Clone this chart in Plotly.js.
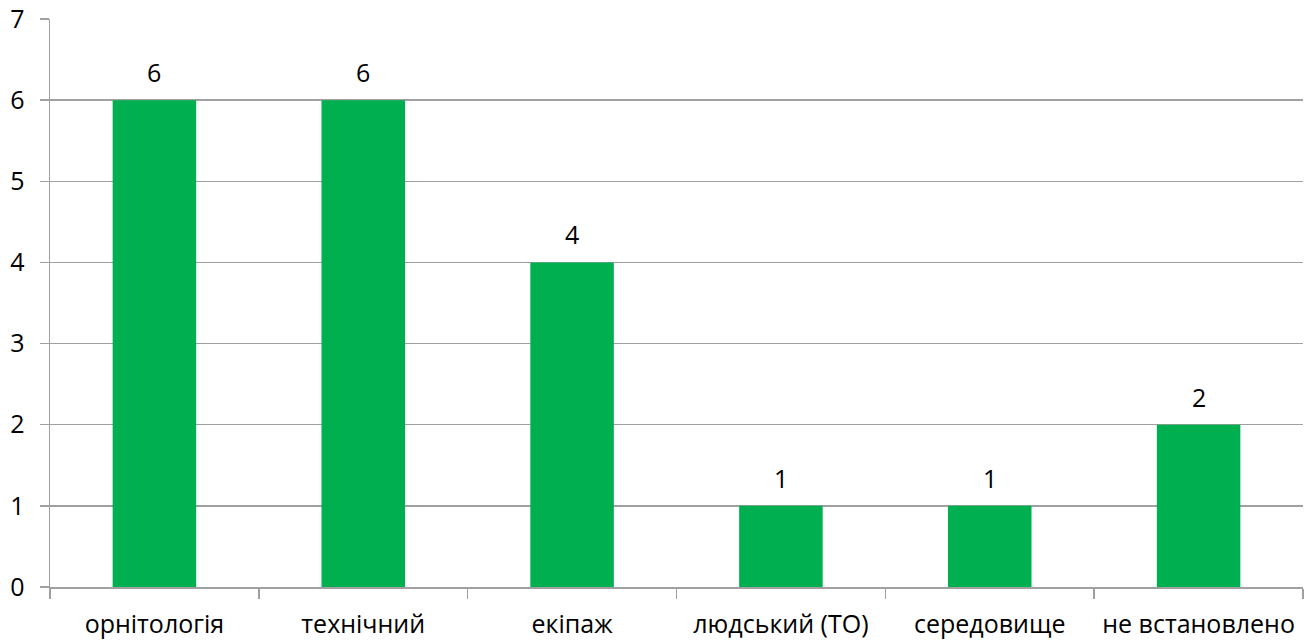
<!DOCTYPE html>
<html>
<head>
<meta charset="utf-8">
<script src="https://cdn.plot.ly/plotly-3.0.1.min.js"></script>
<style>html,body{margin:0;padding:0;background:#fff;}#chart{width:1314px;height:642px;}</style>
</head>
<body>
<div id="chart"></div>
<script>
const categories = ["орнітологія", "технічний", "екіпаж", "людський (ТО)", "середовище", "не встановлено"];
const values = [6, 6, 4, 1, 1, 2];
const yTicks = [0, 1, 2, 3, 4, 5, 6, 7];

const trace = {
  type: "bar",
  x: categories,
  y: values,
  marker: {color: "#00B050"},
  hoverinfo: "none"
};

const annotations = categories.map((c, i) => ({
  x: c,
  y: values[i],
  xref: "x",
  yref: "y",
  text: String(values[i]),
  showarrow: false,
  yanchor: "bottom",
  yshift: 9,
  font: {family: "Open Sans, sans-serif", size: 25, color: "#000"}
}));

const layout = {
  width: 1314,
  height: 642,
  margin: {l: 50, r: 11, t: 19, b: 55},
  paper_bgcolor: "#fff",
  plot_bgcolor: "#fff",
  bargap: 0.6,
  showlegend: false,
  annotations: annotations,
  font: {family: "Open Sans, sans-serif", size: 25, color: "#000"},
  xaxis: {
    type: "category",
    showline: true,
    linecolor: "#a0a0a0",
    linewidth: 1.5,
    ticks: "outside",
    tickson: "boundaries",
    ticklen: 10,
    tickcolor: "#a0a0a0",
    tickwidth: 1.5,
    showgrid: false,
    ticklabelstandoff: 14,
    tickfont: {family: "Open Sans, sans-serif", size: 25, color: "#000"},
    automargin: false
  },
  yaxis: {
    range: [0, 7],
    tickvals: yTicks,
    ticktext: yTicks.map(String),
    showline: true,
    linecolor: "#a0a0a0",
    linewidth: 1.5,
    ticks: "outside",
    ticklen: 9,
    tickcolor: "#a0a0a0",
    tickwidth: 1.5,
    showgrid: true,
    gridcolor: "#a0a0a0",
    gridwidth: 1.5,
    zeroline: false,
    ticklabelstandoff: 10,
    tickfont: {family: "Open Sans, sans-serif", size: 25, color: "#000"},
    automargin: false
  }
};

Plotly.newPlot("chart", [trace], layout, {staticPlot: true, displayModeBar: false});
</script>
</body>
</html>
